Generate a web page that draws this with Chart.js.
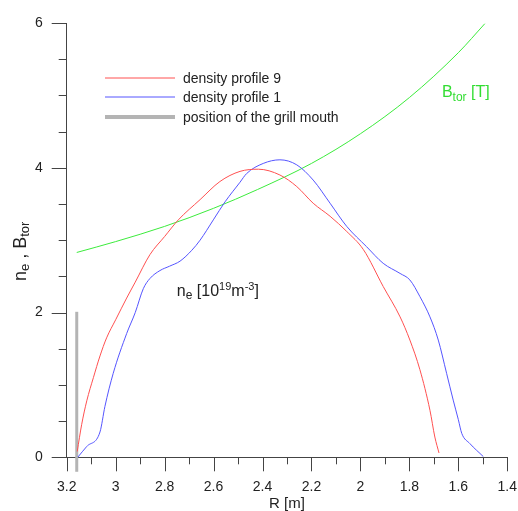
<!DOCTYPE html>
<html>
<head>
<meta charset="utf-8">
<script src="https://cdn.jsdelivr.net/npm/chart.js@4.4.1/dist/chart.umd.min.js"></script>
<style>
  body { margin: 0; background: #fff; }
</style>
</head>
<body>
<canvas id="chart" width="518" height="511"></canvas>
<script>
// density profile 9
const r9 = [3.157, 3.139, 3.118, 3.091, 3.064, 3.037, 3.0, 2.955, 2.92, 2.86, 2.8, 2.744, 2.655, 2.574, 2.492, 2.417, 2.329, 2.26, 2.193, 2.124, 2.056, 1.988, 1.907, 1.838, 1.798, 1.757, 1.716, 1.696, 1.679];
const ne9 = [0.08, 0.45, 0.78, 1.1, 1.4, 1.65, 1.9, 2.2, 2.42, 2.8, 3.05, 3.28, 3.56, 3.81, 3.95, 3.98, 3.9, 3.74, 3.51, 3.33, 3.12, 2.87, 2.36, 1.94, 1.62, 1.21, 0.65, 0.28, 0.06];
// density profile 1
const r1 = [3.155, 3.118, 3.064, 3.044, 3.010, 2.955, 2.92, 2.887, 2.86, 2.819, 2.78, 2.737, 2.689, 2.655, 2.601, 2.553, 2.492, 2.465, 2.397, 2.329, 2.26, 2.193, 2.124, 2.056, 1.975, 1.907, 1.838, 1.798, 1.757, 1.716, 1.682, 1.648, 1.621, 1.6, 1.586, 1.553, 1.498];
const ne1 = [0, 0.15, 0.35, 0.7, 1.16, 1.71, 2.0, 2.33, 2.47, 2.58, 2.64, 2.71, 2.86, 3.0, 3.28, 3.53, 3.8, 3.92, 4.06, 4.11, 4.04, 3.83, 3.51, 3.19, 2.91, 2.68, 2.54, 2.45, 2.22, 1.94, 1.62, 1.16, 0.79, 0.52, 0.33, 0.19, 0.01];
// toroidal field
const rB = [3.159, 3.0, 2.8, 2.6, 2.42, 2.2, 2.0, 1.8, 1.6, 1.492];
const btor = [2.83, 2.98, 3.19, 3.44, 3.70, 4.06, 4.47, 4.97, 5.59, 5.99];
// grill mouth
const rGrill = [3.159, 3.159];
const yGrill = [-0.2, 2.01];

const xTicks = [1.4, 1.6, 1.8, 2, 2.2, 2.4, 2.6, 2.8, 3, 3.2];
const yTicks = [0, 2, 4, 6];

const FONT = "'Liberation Sans', Arial, sans-serif";
const AXIS = "#444";

function pts(xs, ys) {
  return xs.map((x, i) => ({ x: x, y: ys[i] }));
}

// draws a run of text pieces: [text, size, dy]
function drawRun(ctx, parts, x, y, color) {
  ctx.fillStyle = color;
  ctx.textAlign = "left";
  ctx.textBaseline = "alphabetic";
  for (const p of parts) {
    ctx.font = p[1] + "px " + FONT;
    ctx.fillText(p[0], x, y + p[2]);
    x += ctx.measureText(p[0]).width;
  }
}

const extras = {
  id: "extras",
  afterDraw(chart) {
    const ctx = chart.ctx;
    const xs = chart.scales.x, ys = chart.scales.y;
    ctx.save();
    // tick marks
    ctx.strokeStyle = AXIS;
    ctx.lineWidth = 1;
    ctx.beginPath();
    for (let i = 14; i <= 32; i++) {
      const px = Math.round(xs.getPixelForValue(i / 10)) + 0.5;
      const len = i % 2 === 0 ? 14 : 7;
      ctx.moveTo(px, ys.bottom);
      ctx.lineTo(px, ys.bottom + len);
    }
    for (let i = 0; i <= 12; i++) {
      const py = Math.round(ys.getPixelForValue(i / 2)) + 0.5;
      const len = i % 4 === 0 ? 15 : 8;
      ctx.moveTo(xs.left, py);
      ctx.lineTo(xs.left - len, py);
    }
    ctx.stroke();

    // y tick labels
    ctx.fillStyle = "#222";
    ctx.font = "14px " + FONT;
    ctx.textAlign = "right";
    ctx.textBaseline = "middle";
    yTicks.forEach(v => ctx.fillText(String(v), xs.left - 24, ys.getPixelForValue(v)));

    // legend
    const ds = chart.data.datasets;
    const lx = 105, tx = 183, rows = [78, 97, 117];
    ds.slice(0, 3).forEach((d, i) => {
      ctx.strokeStyle = d.borderColor;
      ctx.lineWidth = d.legendWidth;
      ctx.beginPath();
      ctx.moveTo(lx, rows[i]);
      ctx.lineTo(175, rows[i]);
      ctx.stroke();
      ctx.fillStyle = "#222";
      ctx.font = "14px " + FONT;
      ctx.textBaseline = "middle";
      ctx.textAlign = "left";
      ctx.fillText(d.label, tx, rows[i] + 1);
    });

    // B_tor label
    drawRun(ctx, [["B", 16, 0], ["tor", 12, 4], [" [T]", 16, 0]],
      xs.getPixelForValue(1.667), ys.getPixelForValue(4.98), "#33dd33");
    // n_e label
    drawRun(ctx, [["n", 16, 0], ["e", 12, 3], [" [10", 16, 0], ["19", 11, -6], ["m", 16, 0], ["-3", 11, -6], ["]", 16, 0]],
      xs.getPixelForValue(2.75), ys.getPixelForValue(2.23), "#222");

    // y axis title
    ctx.translate(26, 281);
    ctx.rotate(-Math.PI / 2);
    drawRun(ctx, [["n", 18, 0], ["e", 13, 3], [" , ", 18, 0], ["B", 18, 0], ["tor", 13, 3]], 0, 0, "#222");
    ctx.restore();
  }
};

new Chart(document.getElementById("chart"), {
  type: "scatter",
  data: {
    datasets: [
      {
        label: "density profile 9",
        data: pts(r9, ne9),
        borderColor: "rgb(255,80,80)",
        legendWidth: 1,
        borderWidth: 1,
        showLine: true,
        pointRadius: 0,
        cubicInterpolationMode: "monotone"
      },
      {
        label: "density profile 1",
        data: pts(r1, ne1),
        borderColor: "rgb(85,85,255)",
        legendWidth: 1,
        borderWidth: 1,
        showLine: true,
        pointRadius: 0,
        cubicInterpolationMode: "monotone"
      },
      {
        label: "position of the grill mouth",
        data: pts(rGrill, yGrill),
        borderColor: "#b4b4b4",
        legendWidth: 4,
        borderWidth: 3,
        showLine: true,
        pointRadius: 0,
        clip: false
      },
      {
        label: "B_tor",
        data: pts(rB, btor),
        borderColor: "rgb(60,235,60)",
        borderWidth: 1,
        showLine: true,
        pointRadius: 0,
        cubicInterpolationMode: "monotone"
      }
    ]
  },
  options: {
    responsive: false,
    animation: false,
    layout: { padding: { left: 0, top: 23, right: 10.7, bottom: 0 } },
    plugins: {
      legend: { display: false },
      tooltip: { enabled: false }
    },
    scales: {
      x: {
        type: "linear",
        reverse: true,
        min: 1.4,
        max: 3.2,
        afterBuildTicks(scale) {
          scale.ticks = xTicks.map(v => ({ value: v }));
        },
        afterFit(scale) { scale.height = 53.7; },
        grid: { display: false, drawTicks: false },
        border: { display: true, color: AXIS, width: 1 },
        ticks: {
          autoSkip: false,
          maxRotation: 0,
          padding: 21,
          color: "#222",
          font: { family: FONT, size: 14 },
          callback: v => String(Number(v.toFixed(1)))
        },
        title: {
          display: true,
          text: "R [m]",
          color: "#222",
          font: { family: FONT, size: 15 },
          padding: { top: 0, bottom: -2 }
        }
      },
      y: {
        type: "linear",
        min: 0,
        max: 6,
        afterFit(scale) { scale.width = 66.7; },
        grid: { display: false, drawTicks: false },
        border: { display: true, color: AXIS, width: 1 },
        ticks: { display: false }
      }
    }
  },
  plugins: [extras]
});
</script>
</body>
</html>
